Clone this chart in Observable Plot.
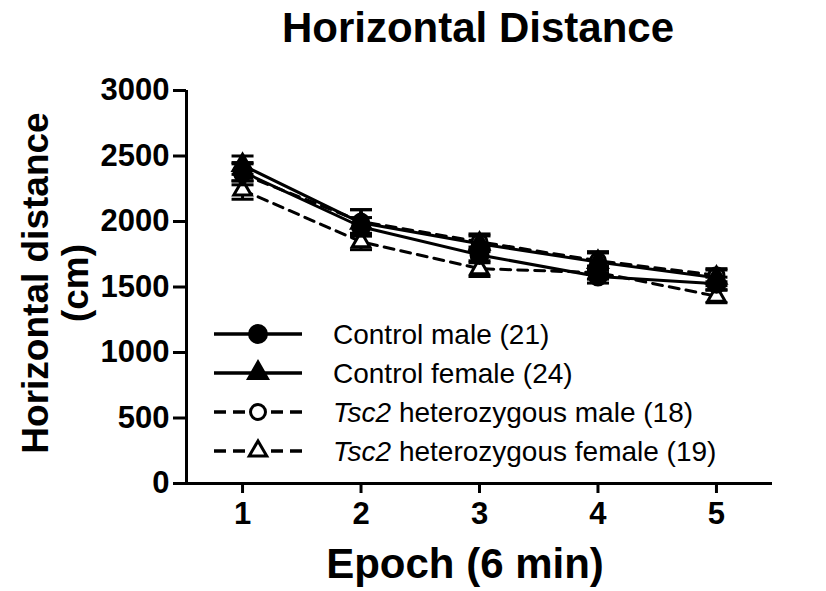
<!DOCTYPE html>
<html>
<head>
<meta charset="utf-8">
<script src="https://cdn.jsdelivr.net/npm/d3@7"></script>
<script src="https://cdn.jsdelivr.net/npm/@observablehq/plot@0.6"></script>
<style>
  html, body { margin: 0; padding: 0; background: white; }
  #wrap { position: relative; width: 826px; height: 591px; overflow: hidden; }
  #wrap svg { position: absolute; left: 0; top: 0; }
  .plot text { font-weight: bold; font-size: 31px; }
</style>
</head>
<body>
<div id="wrap"></div>
<script>
// ---- data ----
const epochs = [1, 2, 3, 4, 5];
const seriesNames = ["Control male", "Control female", "Tsc2 heterozygous male", "Tsc2 heterozygous female"];
const seriesN = [21, 24, 18, 19];
const controlMale   = [2380, 1960, 1745, 1580, 1525];
const controlFemale = [2430, 1990, 1830, 1690, 1570];
const tscMale       = [2360, 2000, 1845, 1700, 1590];
const tscFemale     = [2240, 1845, 1640, 1610, 1430];
const semControlMale   = [70, 70, 60, 50, 50];
const semControlFemale = [70, 100, 60, 80, 60];
const semTscMale       = [80, 90, 60, 60, 50];
const semTscFemale     = [70, 60, 60, 50, 50];
const yTicks = [0, 500, 1000, 1500, 2000, 2500, 3000];
const xDomain = [0.527, 5.473];
const yDomain = [0, 3000];

const seriesStyle = [
  {symbol: "circle",   fill: "black", dashed: false, r: 8.5},
  {symbol: "triangle", fill: "black", dashed: false, r: 7},
  {symbol: "circle",   fill: "white", dashed: true,  r: 7.5},
  {symbol: "triangle", fill: "white", dashed: true,  r: 6.5}
];
const means = [controlMale, controlFemale, tscMale, tscFemale];
const sems = [semControlMale, semControlFemale, semTscMale, semTscFemale];

const rows = [];
means.forEach((arr, s) => arr.forEach((v, i) => rows.push({
  series: seriesNames[s], s, epoch: epochs[i], mean: v, sem: sems[s][i],
  ...seriesStyle[s]
})));
const caps = rows.flatMap(d => [{...d, y: d.mean + d.sem}, {...d, y: d.mean - d.sem}]);

const capSymbol = {
  draw(context, size) {
    const w = Math.sqrt(size / Math.PI);
    context.moveTo(-w, 0);
    context.lineTo(w, 0);
  }
};

// draw order: dashed series first, controls on top
const order = [3, 2, 1, 0];
const marks = [
  Plot.axisY({ticks: yTicks, tickSize: 13, tickPadding: 4, strokeWidth: 3, label: null, tickFormat: d => String(d)}),
  Plot.axisX({ticks: epochs, tickSize: 10, tickPadding: 8, strokeWidth: 3, label: null, tickFormat: d => String(d)}),
  Plot.ruleX([xDomain[0]], {y1: yDomain[0], y2: yDomain[1], strokeWidth: 3}),
  Plot.ruleY([yDomain[0]], {x1: xDomain[0], x2: xDomain[1], strokeWidth: 3})
];
for (const s of order) {
  const r = rows.filter(d => d.s === s);
  const c = caps.filter(d => d.s === s);
  const st = seriesStyle[s];
  marks.push(
    Plot.ruleX(r, {x: "epoch", y1: d => d.mean - d.sem, y2: d => d.mean + d.sem, strokeWidth: 3}),
    Plot.dot(c, {x: "epoch", y: "y", symbol: capSymbol, r: 11, stroke: "black", strokeWidth: 3}),
    Plot.line(r, {x: "epoch", y: "mean", stroke: "black", strokeWidth: 3, strokeDasharray: st.dashed ? "10,7" : null}),
    Plot.dot(r, {x: "epoch", y: "mean", symbol: st.symbol, r: st.r, fill: st.fill, stroke: "black", strokeWidth: 3})
  );
}

const chart = Plot.plot({
  className: "plot",
  width: 826, height: 591,
  marginTop: 90, marginBottom: 108, marginLeft: 186, marginRight: 54,
  x: {domain: xDomain},
  y: {domain: yDomain},
  style: {fontFamily: "'Liberation Sans', Arial, sans-serif", fontSize: "31px", color: "black", background: "white"},
  marks
});
document.getElementById("wrap").appendChild(chart);

// ---- overlay: title, axis titles, legend ----
const ov = d3.select("#wrap").append("svg")
  .attr("width", 826).attr("height", 591)
  .style("font-family", "'Liberation Sans', Arial, sans-serif")
  .style("pointer-events", "none");

ov.append("text").attr("x", 478).attr("y", 42).attr("text-anchor", "middle")
  .attr("font-size", 42).attr("font-weight", "bold").text("Horizontal Distance");
ov.append("text").attr("x", 465).attr("y", 578).attr("text-anchor", "middle")
  .attr("font-size", 42).attr("font-weight", "bold").text("Epoch (6 min)");
const yl = ov.append("g").attr("transform", "translate(0,283) rotate(-90)");
yl.append("text").attr("x", 0).attr("y", 48).attr("text-anchor", "middle")
  .attr("font-size", 37).attr("font-weight", "bold").text("Horizontal distance");
yl.append("text").attr("x", 0).attr("y", 88).attr("text-anchor", "middle")
  .attr("font-size", 37).attr("font-weight", "bold").text("(cm)");

const legendY = [334, 373, 412, 451];
seriesNames.forEach((name, s) => {
  const st = seriesStyle[s];
  const g = ov.append("g").attr("transform", `translate(0,${legendY[s]})`);
  g.append("line").attr("x1", 214).attr("x2", 302).attr("y1", 0).attr("y2", 0)
    .attr("stroke", "black").attr("stroke-width", 3.5)
    .attr("stroke-dasharray", st.dashed ? "12,7" : null);
  const sym = st.symbol === "circle" ? d3.symbolCircle : d3.symbolTriangle;
  g.append("path").attr("transform", "translate(258,0)")
    .attr("d", d3.symbol(sym, st.r * st.r * Math.PI)())
    .attr("fill", st.fill).attr("stroke", "black").attr("stroke-width", 3);
  const t = g.append("text").attr("x", 333).attr("y", 10).attr("font-size", 28);
  if (name.startsWith("Tsc2")) {
    t.append("tspan").attr("font-style", "italic").text("Tsc2");
    t.append("tspan").text(name.slice(4) + ` (${seriesN[s]})`);
  } else {
    t.text(`${name} (${seriesN[s]})`);
  }
});
</script>
</body>
</html>
